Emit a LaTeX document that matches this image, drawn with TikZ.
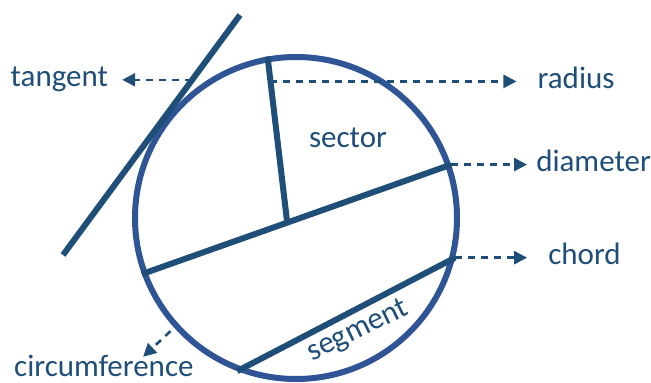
\documentclass[tikz,border=0pt]{standalone}
\usepackage{fontspec}
\setmainfont{Carlito}
\usetikzlibrary{arrows.meta,positioning,calc}
\definecolor{rimblue}{HTML}{2F5597}
\definecolor{lineblue}{HTML}{1F4E79}

\begin{document}
\begin{tikzpicture}[
  x=1pt, y=-1pt,
  rim/.style={draw=rimblue, line width=6pt, circle, minimum size=322pt, inner sep=0pt},
  part/.style={draw=lineblue, line width=6pt},
  lbl/.style={text=lineblue, font=\fontsize{31}{37}\selectfont, inner sep=0pt, text height=14pt, text depth=0pt},
  pointer/.style={draw=lineblue, line width=2.6pt, dash pattern=on 7pt off 6pt, -{Triangle[length=13pt, width=13pt]}}
]
\useasboundingbox (0,0) rectangle (651,383);

\node[rim] (rim) at (296,218) {};

\coordinate (tanA) at (240,15);
\coordinate (tanB) at (63,255);
\coordinate (foot) at ($(rim.200)!0.47!(rim.19)$);

\draw[part] (tanA) -- (tanB);
\draw[part] (rim.200) -- (rim.19);
\draw[part] (rim.100) -- (foot);
\draw[part] (rim.249) -- (rim.346);

\coordinate (tanhit) at ($(tanA)!0.27!(tanB)$);
\coordinate (radhit) at ($(rim.100)!0.15!(foot)$);
\coordinate (tantip) at ($(tanhit)+(-70,0)$);
\coordinate (radtip) at ($(radhit)+(246,0)$);
\coordinate (diatip) at ($(rim.19)+(76,0)$);
\coordinate (chotip) at ($(rim.346)+(72,0)$);
\coordinate (cirtip) at ($(rim.222)+(-31,29)$);

\node[lbl, left=14pt of tantip] (tangent) {tangent};
\node[lbl, right=21pt of radtip] (radius) {radius};
\node[lbl, right=9pt of diatip] (diameter) {diameter};
\node[lbl, right=21pt of chotip] (chord) {chord};
\node[lbl, anchor=base west] (circumference) at (14,376) {circumference};
\node[lbl] (sector) at (348,140) {sector};
\node[lbl, rotate=26] (segment) at (358,331) {segment};

\draw[pointer] (tanhit) -- (tantip);
\draw[pointer] (radhit) -- (radtip);
\draw[pointer] (rim.19) -- (diatip);
\draw[pointer] (rim.346) -- (chotip);
\draw[pointer, shorten <=5pt] (rim.222) -- (cirtip);
\end{tikzpicture}
\end{document}
